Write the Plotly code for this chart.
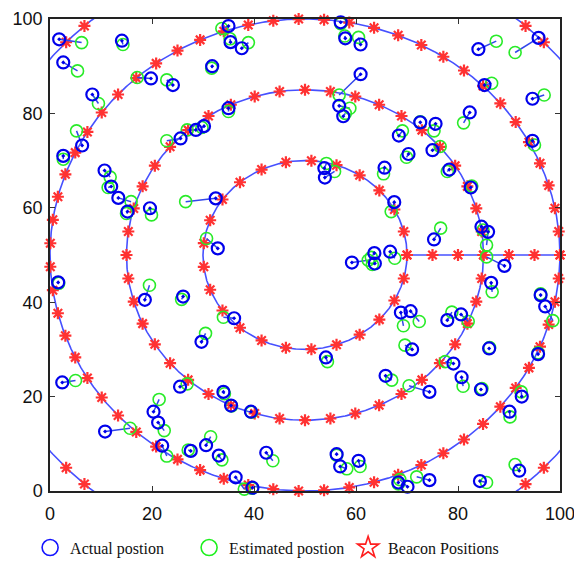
import numpy as np
import plotly.graph_objects as go

# ---- data ----
# Actual (blue) and estimated (green) node positions
actual_x = [1.8, 2.6, 14.1, 8.3, 19.8, 24.1, 31.8, 35.0, 35.4, 37.6, 6.3, 2.6, 10.7, 12.0, 13.4, 15.2, 19.6,
            25.6, 28.6, 30.2, 35.0, 32.5, 32.9,
            57.0, 57.9, 60.9, 84.0, 95.8, 85.2, 94.6, 60.9, 56.7, 57.5, 82.3, 72.6, 75.6, 68.4, 70.3, 75.0,
            78.3, 65.6, 94.6, 82.5, 53.8, 53.9, 67.5, 84.6, 85.9, 75.3, 89.1, 59.2, 63.6, 63.7, 66.7,
            1.6, 18.6, 26.1, 36.1, 29.7, 2.4, 25.5, 34.0, 35.5, 39.4, 20.3, 21.2, 10.8, 22.0, 27.6, 30.6,
            33.1, 42.4, 36.4, 39.7,
            86.5, 96.2, 97.1, 68.8, 70.7, 77.9, 80.6, 71.0, 86.1, 54.1, 79.1, 95.7, 65.8, 80.7, 74.4, 84.5,
            92.5, 90.1, 56.2, 56.9, 60.5, 68.3, 70.1, 74.4, 84.3, 92.0]
actual_y = [95.7, 90.8, 95.4, 84.0, 87.4, 86.0, 90.0, 98.5, 95.1, 93.8, 73.2, 71.0, 67.9, 64.5, 62.1, 59.2, 59.9,
            74.7, 76.5, 77.3, 81.1, 62.0, 51.4,
            99.3, 95.9, 94.6, 93.6, 96.0, 86.0, 83.1, 88.3, 81.6, 79.4, 80.2, 78.1, 77.8, 75.3, 71.4, 72.2,
            68.1, 68.5, 74.2, 64.3, 68.4, 66.4, 61.2, 56.0, 54.9, 53.3, 47.7, 48.4, 50.4, 48.2, 50.7,
            44.2, 40.5, 41.2, 36.6, 31.6, 23.0, 22.1, 21.0, 18.1, 16.8, 16.8, 14.5, 12.6, 9.6, 8.5, 9.7,
            7.5, 8.1, 2.9, 0.7,
            44.1, 41.5, 39.1, 37.8, 38.1, 36.2, 37.4, 30.0, 30.2, 28.3, 27.0, 29.0, 24.4, 24.1, 21.0, 21.5,
            20.0, 16.8, 7.8, 5.2, 6.4, 1.8, 0.9, 2.3, 2.1, 4.3]
estimated_x = [6.2, 5.4, 14.3, 9.5, 17.1, 22.9, 31.7, 33.7, 35.3, 38.9, 5.2, 2.6, 11.8, 11.4, 15.9, 15.0, 19.9,
               22.9, 26.9, 29.8, 35.0, 26.6, 30.7,
               57.0, 57.8, 60.5, 87.5, 91.2, 86.6, 96.9, 56.7, 58.8, 57.9, 81.1, 72.6, 75.3, 69.1, 69.9, 76.5,
               77.9, 65.4, 95.0, 82.7, 54.2, 55.8, 66.9, 84.9, 85.6, 76.6, 85.6, 62.4, 63.0, 63.2, 67.6,
               1.7, 19.5, 25.8, 34.0, 30.5, 5.0, 26.9, 34.2, 35.6, 39.5, 21.4, 22.4, 15.7, 22.9, 27.1, 31.5,
               33.7, 43.7, 38.1, 39.6,
               86.7, 96.2, 98.6, 69.3, 72.4, 78.8, 82.0, 69.6, 86.2, 54.4, 77.5, 95.7, 67.0, 81.0, 70.4, 84.7,
               92.4, 90.2, 56.2, 58.2, 60.8, 68.3, 68.6, 71.9, 85.6, 91.2]
estimated_y = [95.0, 89.0, 94.6, 82.1, 87.6, 87.1, 89.6, 98.0, 95.8, 95.0, 76.3, 70.3, 66.5, 64.3, 61.3, 58.8, 58.5,
               74.2, 76.5, 77.0, 80.4, 61.3, 53.5,
               99.0, 96.4, 96.1, 95.3, 92.9, 86.4, 83.9, 83.9, 81.1, 80.0, 78.0, 78.2, 76.3, 76.3, 70.7, 73.0,
               67.7, 67.2, 73.3, 64.6, 69.4, 67.7, 59.2, 55.3, 52.1, 55.7, 49.6, 48.9, 49.5, 48.0, 49.3,
               44.0, 43.6, 40.6, 36.8, 33.4, 23.4, 22.7, 20.6, 18.0, 16.7, 19.4, 12.8, 13.3, 7.4, 8.7, 11.5,
               6.6, 6.4, 0.4, 0.6,
               42.2, 41.8, 36.1, 35.0, 35.9, 37.9, 35.9, 30.9, 30.4, 27.4, 27.4, 29.3, 23.5, 22.2, 22.3, 21.7,
               21.0, 15.7, 7.6, 4.7, 5.2, 1.5, 2.4, 3.0, 1.8, 5.6]

# Beacon layout: concentric rings around the field centre plus a radial line
center = [50, 50]
ring_radii = [20, 35, 50, 65]
ring_beacon_counts = [25, 44, 63, 82]
line_beacon_x = [70, 75, 80, 85, 90, 95, 100]
line_beacon_y = [50, 50, 50, 50, 50, 50, 50]

tick_vals = [0, 20, 40, 60, 80, 100]

# ---- build figure ----
fig = go.Figure()

ring_color = "rgb(70,80,255)"
theta = np.linspace(0, 2 * np.pi, 721)
for r in ring_radii:
    fig.add_trace(go.Scatter(
        x=center[0] + r * np.cos(theta), y=center[1] + r * np.sin(theta),
        mode="lines", line=dict(color=ring_color, width=1.6),
        hoverinfo="skip", showlegend=False))
fig.add_trace(go.Scatter(x=[line_beacon_x[0], line_beacon_x[-1]],
                         y=[line_beacon_y[0], line_beacon_y[-1]],
                         mode="lines", line=dict(color=ring_color, width=1.6),
                         hoverinfo="skip", showlegend=False))

bx, by = [], []
for r, n in zip(ring_radii, ring_beacon_counts):
    a = 2 * np.pi * np.arange(n) / n
    xs = center[0] + r * np.cos(a)
    ys = center[1] + r * np.sin(a)
    keep = (xs >= -0.5) & (xs <= 100.5) & (ys >= -0.5) & (ys <= 100.5)
    bx.extend(xs[keep].tolist())
    by.extend(ys[keep].tolist())
bx.extend(line_beacon_x)
by.extend(line_beacon_y)

beacon_color = "rgb(255,50,50)"
fig.add_trace(go.Scatter(x=bx, y=by, mode="markers", cliponaxis=False,
                         marker=dict(symbol="asterisk-open", size=10, color=beacon_color,
                                     line=dict(color=beacon_color, width=2.2)),
                         showlegend=False))

# connecting lines actual -> estimated
lx, ly = [], []
for ax_, ay_, ex_, ey_ in zip(actual_x, actual_y, estimated_x, estimated_y):
    lx += [ax_, ex_, None]
    ly += [ay_, ey_, None]
fig.add_trace(go.Scatter(x=lx, y=ly, mode="lines",
                         line=dict(color="rgb(50,70,235)", width=1.5),
                         hoverinfo="skip", showlegend=False, cliponaxis=False))

green = "rgb(40,235,40)"
blue = "rgb(0,0,235)"
fig.add_trace(go.Scatter(x=estimated_x, y=estimated_y, mode="markers", cliponaxis=False,
                         marker=dict(symbol="circle-open", size=12, color=green,
                                     line=dict(color=green, width=1.6)),
                         showlegend=False))
fig.add_trace(go.Scatter(x=actual_x, y=actual_y, mode="markers", cliponaxis=False,
                         marker=dict(symbol="circle-open-dot", size=12, color=blue,
                                     line=dict(color=blue, width=2.2)),
                         showlegend=False))

# legend entries
fig.add_trace(go.Scatter(x=[None], y=[None], mode="markers", name="Actual postion",
                         marker=dict(symbol="circle-open", size=16, color="rgb(20,20,255)",
                                     line=dict(width=1.6))))
fig.add_trace(go.Scatter(x=[None], y=[None], mode="markers", name="Estimated postion",
                         marker=dict(symbol="circle-open", size=16, color="rgb(30,240,30)",
                                     line=dict(width=1.6))))
fig.add_trace(go.Scatter(x=[None], y=[None], mode="markers", name="Beacon Positions",
                         marker=dict(symbol="star-open", size=16, color="rgb(255,30,30)",
                                     line=dict(width=1.6))))

axis_common = dict(range=[0, 100], tickvals=tick_vals, ticks="inside", ticklen=5,
                   tickcolor="#333", showline=True, linecolor="#222", linewidth=1.5,
                   mirror="ticks", showgrid=False, zeroline=False, automargin=False,
                   tickfont=dict(family="Liberation Sans", size=18, color="#111"))

# page body has an 8px default margin, so the figure is sized to fit the window
fig.update_layout(
    width=574, height=555,
    margin=dict(l=42, r=22, t=11, b=72, autoexpand=False),
    paper_bgcolor="white", plot_bgcolor="white",
    xaxis=dict(**axis_common, ticklabelstandoff=6),
    yaxis=dict(**axis_common, ticklabelstandoff=2),
    showlegend=True,
    legend=dict(orientation="h", x=-0.039, xanchor="left", y=-0.12, yanchor="middle",
                font=dict(family="Liberation Serif", size=16, color="#111"),
                entrywidth=114, entrywidthmode="pixels", bgcolor="rgba(0,0,0,0)"),
)

fig.write_html("out.html")
